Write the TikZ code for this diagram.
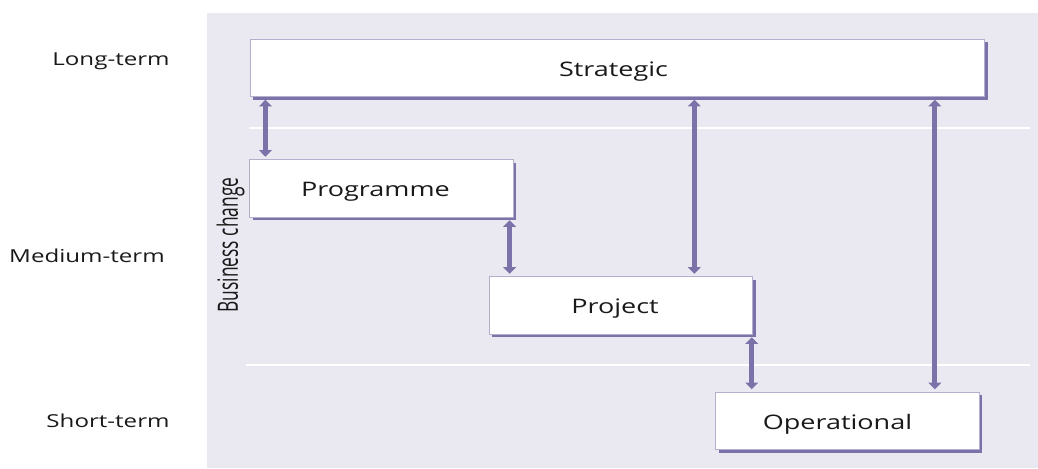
\documentclass[tikz,border=0pt]{standalone}
\usepackage{fontspec}
\setmainfont[FakeStretch=1.35]{Open Sans}
\newfontfamily\condensedfont[FakeStretch=0.62]{Open Sans}
\usetikzlibrary{arrows.meta,shadows}
\definecolor{panelfill}{HTML}{EAE8F0}
\definecolor{boxline}{HTML}{B4AFCC}
\definecolor{linkcol}{HTML}{7B72AA}
\tikzstyle{stage}=[
	rectangle,
	draw=boxline,
	line width=0.6pt,
	fill=white,
	minimum width=197.5pt,
	minimum height=43pt,
	text height=12pt,
	text depth=0pt,
	text=black!90,
	font=\fontsize{15pt}{18pt}\selectfont,
	drop shadow={shadow xshift=2.3pt, shadow yshift=-2.3pt, fill=linkcol, opacity=1}
]
\tikzstyle{horizon}=[
	anchor=base,
	text=black!90,
	font=\fontsize{13.4pt}{16pt}\selectfont
]
\tikzstyle{link}=[
	{Triangle[width=9.5pt,length=5pt]}-{Triangle[width=9.5pt,length=5pt]},
	line width=3.8pt,
	draw=linkcol,
	shorten >=2pt,
	shorten <=2pt
]
\tikzstyle{divider}=[
	draw=white,
	line width=1.6pt
]

\begin{document}
\begin{tikzpicture}[x=0.75pt,y=-0.75pt]
\useasboundingbox (0,0) rectangle (1038,468);
% background panel and time bands
\fill[panelfill] (207,13) rectangle (1038,468);
\draw[divider] (249,128) -- (1030,128);
\draw[divider] (246,365) -- (1030,365);
% time scale
\node [horizon] (long) at (111,65) {Long-term};
\node [horizon] (medium) at (87,262) {Medium-term};
\node [horizon] (short) at (108,427) {Short-term};
\node [rotate=90, text=black!90, font=\condensedfont\fontsize{21pt}{24pt}\selectfont] (change) at (230.5,245) {Business change};
% planning levels
\node [stage, minimum width=551pt] (Strategic) at (617.5,68) {Strategic\hspace*{6pt}};
\node [stage] (Programme) at (381.5,188.5) {Programme\hspace*{9pt}};
\node [stage] (Project) at (621,305.5) {Project\hspace*{9pt}};
\node [stage] (Operational) at (847.5,421) {Operational\hspace*{15pt}};
% links
\draw [link] ([xshift=12pt]Programme.north west |- Strategic.south) -- ([xshift=12pt]Programme.north west);
\draw [link] ([xshift=55pt]Project.north |- Strategic.south) -- ([xshift=55pt]Project.north);
\draw [link] ([xshift=65.5pt]Operational.north |- Strategic.south) -- ([xshift=65.5pt]Operational.north);
\draw [link] ([xshift=15.5pt]Project.north west |- Programme.south) -- ([xshift=15.5pt]Project.north west);
\draw [link] ([xshift=-1pt]Project.south east) -- ([xshift=-1pt]Project.south east |- Operational.north);
\end{tikzpicture}
\end{document}
